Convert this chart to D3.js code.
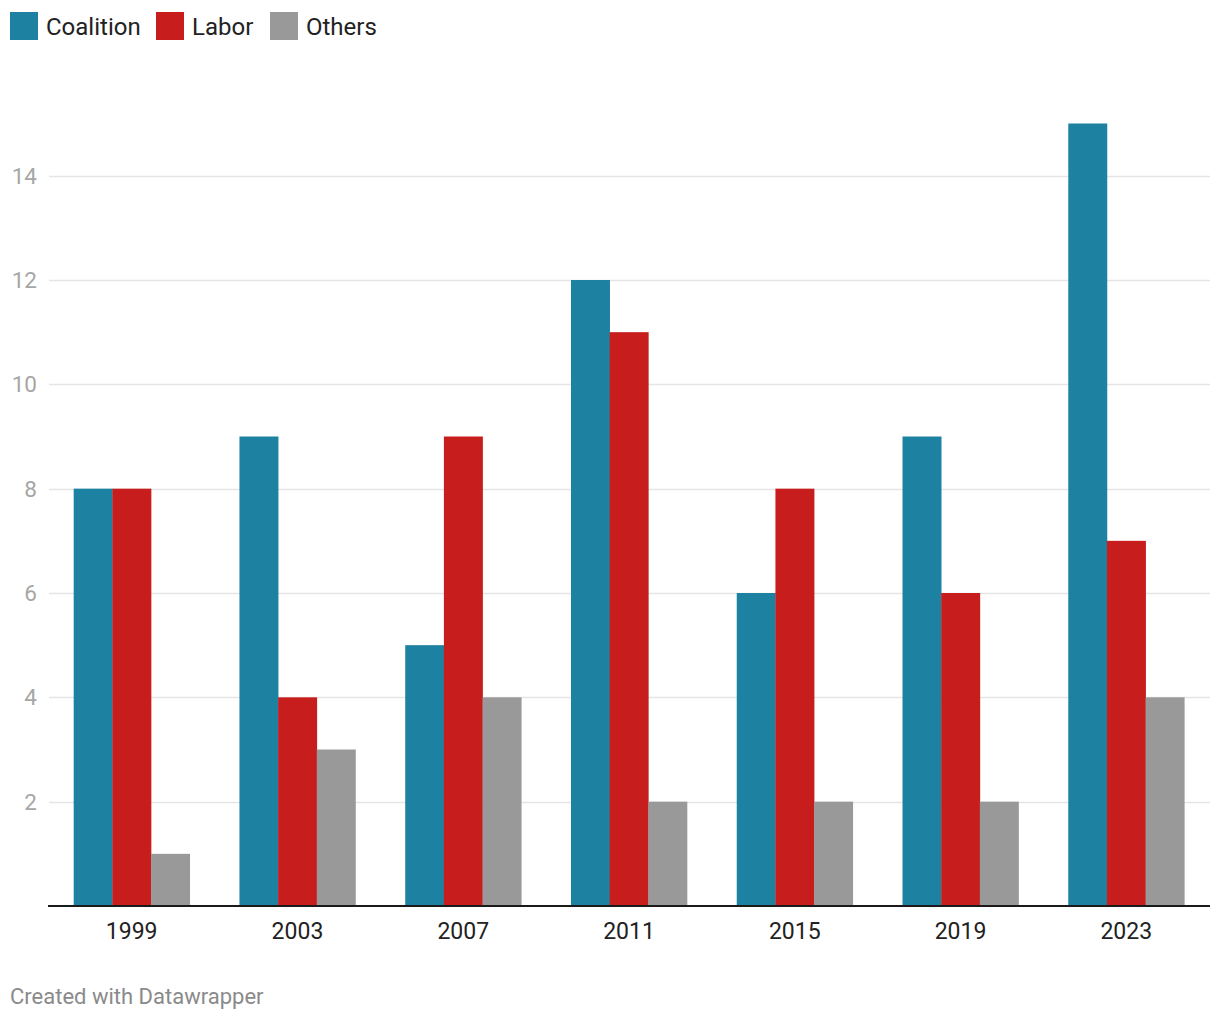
<!DOCTYPE html>
<html><head><meta charset="utf-8">
<script src="https://cdn.jsdelivr.net/npm/d3@7"></script>
<style>body{margin:0;background:#fff;font-family:Roboto,sans-serif}</style>
</head><body><svg id="c" width="1220" height="1020"></svg>
<script>
const years = ["1999","2003","2007","2011","2015","2019","2023"];
const seriesNames = ["Coalition","Labor","Others"];
const seriesColors = ["#1d81a2","#c71e1d","#999999"];
const coalition = [8,9,5,12,6,9,15];
const labor = [8,4,9,11,8,6,7];
const others = [1,3,4,2,2,2,4];
const yTicks = [2,4,6,8,10,12,14];
const values = [coalition, labor, others];

const svg = d3.select("#c");
const x = d3.scaleBand().domain(years).range([48,1210]).paddingInner(0.3).paddingOuter(0.155);
const xs = d3.scaleBand().domain(seriesNames).range([0,x.bandwidth()]);
const y = d3.scaleLinear().domain([0,15]).range([906,123.5]);

svg.append("g").selectAll("line").data(yTicks).join("line")
  .attr("x1",49).attr("x2",1210).attr("y1",d=>Math.round(y(d))+0.5).attr("y2",d=>Math.round(y(d))+0.5)
  .attr("stroke","#e5e5e5").attr("stroke-width",1.5);
svg.append("g").selectAll("text").data(yTicks).join("text")
  .attr("x",37).attr("y",d=>y(d)+8).attr("text-anchor","end")
  .attr("font-size",22.5).attr("fill","#a6a6a6").text(d=>d);

seriesNames.forEach((s,i)=>{
  svg.append("g").selectAll("rect").data(years).join("rect")
    .attr("x",(d)=>x(d)+xs(s)).attr("width",xs.bandwidth()+0.3)
    .attr("y",(d,j)=>y(values[i][j])).attr("height",(d,j)=>y(0)-y(values[i][j]))
    .attr("fill",seriesColors[i]);
});

svg.append("line").attr("x1",48).attr("x2",1210).attr("y1",906).attr("y2",906)
  .attr("stroke","#1a1a1a").attr("stroke-width",2);

svg.append("g").selectAll("text").data(years).join("text")
  .attr("x",d=>x(d)+x.bandwidth()/2).attr("y",939).attr("text-anchor","middle")
  .attr("font-size",23).attr("fill","#222").text(d=>d);

const legX = [10,156,270];
seriesNames.forEach((s,i)=>{
  svg.append("rect").attr("x",legX[i]).attr("y",12).attr("width",28).attr("height",28).attr("fill",seriesColors[i]);
  svg.append("text").attr("x",legX[i]+36).attr("y",34.5).attr("font-size",24).attr("fill","#222").text(s);
});

svg.append("text").attr("x",10).attr("y",1004).attr("font-size",22).attr("fill","#8a8a8a").text("Created with Datawrapper");
</script></body></html>
